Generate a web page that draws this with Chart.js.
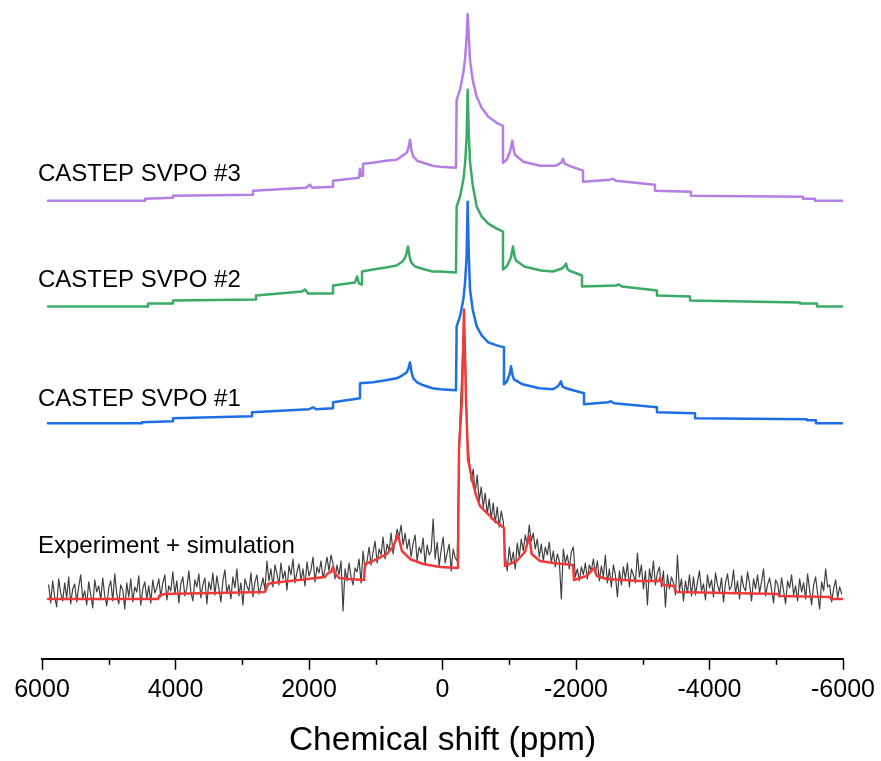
<!DOCTYPE html>
<html>
<head>
<meta charset="utf-8">
<script src="https://cdn.jsdelivr.net/npm/chart.js@4"></script>
<style>
  html, body { margin: 0; padding: 0; background: #fff; }
  canvas { display: block; }
</style>
</head>
<body>
<canvas id="nmr" width="881" height="761"></canvas>
<script>
// Static NMR line shapes: [chemical shift (ppm), intensity (a.u.) above each trace's own baseline]
const svpo3 = [[5910,0],[4456,0],[4456,2],[4037,3],[4037,5],[2839,6],[2839,10],[2045,13],[1985,16],[1955,13],
  [1640,14],[1640,20],[1251,23],[1236,32],[1221,25],[1191,25],[1191,37],[1041,38],[850,40],[686,41],[600,45],
  [536,48],[510,53],[487,61],[464,50],[437,44],[380,40],[288,38],[150,35],[37,34],[-202,33],[-212,101],
  [-262,111],[-312,128],[-337,141],[-362,164],[-377,187],[-392,168],[-412,141],[-452,121],[-512,104],
  [-587,93],[-686,84],[-812,78],[-906,75],[-906,38],[-962,41],[-1011,49],[-1046,60],[-1071,50],[-1086,46],
  [-1210,39],[-1461,35],[-1700,35],[-1780,38],[-1805,42],[-1830,37],[-1895,35],[-2105,30],[-2105,19],
  [-2509,21],[-2554,22],[-2599,20],[-3183,16],[-3183,10],[-3723,9],[-3723,5],[-5400,4],[-5400,2],
  [-5580,2],[-5580,0],[-6000,0]];

const svpo2 = [[5910,0],[4411,0],[4411,3],[4037,3],[4037,6],[2794,7],[2794,11],[2105,15],[2060,17],[2015,13],
  [1640,13],[1640,21],[1311,24],[1281,30],[1251,23],[1206,22],[1206,35],[1041,37],[850,39],[686,41],[600,45],
  [566,48],[540,53],[517,60],[494,50],[467,44],[410,40],[318,38],[150,35],[37,35],[-202,34],[-212,100],
  [-262,110],[-312,127],[-337,142],[-362,170],[-377,217],[-392,175],[-412,145],[-452,122],[-512,100],
  [-587,90],[-686,83],[-812,78],[-906,75],[-906,37],[-962,40],[-1026,49],[-1056,60],[-1081,50],[-1101,46],
  [-1225,40],[-1476,36],[-1655,35],[-1790,38],[-1835,41],[-1850,43],[-1870,38],[-1895,36],[-2090,31],
  [-2090,20],[-2599,21],[-2644,22],[-2689,20],[-3213,16],[-3213,11],[-3708,10],[-3708,6],[-5355,4],
  [-5355,3],[-5610,3],[-5610,0],[-6000,0]];

const svpo1 = [[5910,0],[4501,0],[4501,1],[4037,2],[4037,5],[2854,7],[2854,11],[2000,14],[1940,16],[1895,14],
  [1640,15],[1640,21],[1236,25],[1236,40],[1041,41],[850,43],[686,45],[600,48],[536,51],[510,55],[487,61],
  [464,51],[437,45],[380,41],[288,38],[150,35],[37,34],[-202,33],[-212,97],[-262,107],[-312,124],[-337,140],
  [-362,168],[-377,222],[-392,172],[-412,134],[-452,114],[-512,97],[-587,88],[-686,81],[-812,78],[-921,76],
  [-921,39],[-966,42],[-1006,49],[-1026,57],[-1050,48],[-1071,44],[-1200,39],[-1450,35],[-1655,34],
  [-1730,37],[-1760,40],[-1775,42],[-1795,37],[-1850,35],[-2120,30],[-2120,19],[-2479,21],[-2524,22],
  [-2569,20],[-3213,16],[-3213,11],[-3783,10],[-3783,5],[-5460,4],[-5460,3],[-5595,3],[-5595,0],[-6000,0]];

const simulation = [[5910,0],[4262,0],[4232,4],[4157,5],[2659,7],[2614,15],[2554,16],[1760,22],[1730,25],
  [1670,27],[1640,32],[1610,25],[1550,21],[1400,20],[1176,19],[1161,35],[1041,38],[831,45],[742,52],
  [667,64],[607,48],[487,40],[292,35],[37,32],[-232,31],[-247,150],[-292,200],[-322,290],[-352,200],
  [-382,140],[-442,120],[-502,104],[-562,93],[-637,88],[-787,78],[-921,71],[-936,33],[-1111,38],
  [-1236,47],[-1300,63],[-1336,45],[-1461,38],[-1655,36],[-1955,34],[-1970,19],[-2160,23],[-2274,31],
  [-2310,23],[-2460,20],[-2959,18],[-3243,18],[-3258,21],[-3303,14],[-3468,13],[-3498,7],[-5026,5],
  [-5041,3],[-5805,2],[-5820,0],[-6000,0]];

// Measured spectrum, sampled every 30 ppm starting at 5900 ppm
const exptStart = 5900;
const exptStep = 30;
const experiment = [
  14,-4,18,2,-8,20,6,-2,16,1, 22,-5,10,15,-3,12,24,0,8,-6, 17,4,-9,19,7,13,-1,21,3,-7,
  11,18,-2,25,5,-5,14,9,-10,16, 2,20,-3,12,7,23,-6,10,17,0, 13,-4,19,6,11,
  20,2,16,24,-1,13,8,27,5,18, -4,15,22,3,11,28,7,-2,19,12, 25,1,14,21,-5,17,9,26,4,23,
  10,-3,18,29,6,14,0,22,11,30, 3,16,-6,20,13,8,26,2,17,24, 5,12,21,9,
  38,18,30,12,34,25,14,36,20,28, 9,33,24,40,16,27,35,19,30,13, 37,23,29,42,17,32,26,38,21,
  30,42,28,44,35,
  20,34,24,38,-12,30,18,36,22,14,31,27,40,16,48,29,
  38,52,34,47,58,36,50,44,62,40,55,48,66,45,58,
  70,62,74,54,66,
  50,60,42,56,64,38,52,46,61,35,54,44,48,80,40,57,33,49,62,36,46,55,28,50,41,
  38,160,210,262, 250,165,
  140,118,130,106,124,98,112,92,106,85,100,80,96,76,92,72,88,78,
  44,28,52,36,47,30,56,42,60,48,64,55,
  74,58,66,50,60,42,55,38,52,44,57,36,
  48,32,45,38,0,50,36,44,30,47,52,22,30,
  18,32,24,36,20,34,28,40,26,38,18,33,22,44,16,30,12,34,24,
  2,28,14,32,20,36,12,30,24,16,46,22,34,10,28,-6,30,18,38,14,
  26,32,12,28,-8,24,10,22,16,4,44,8,20,-2,18,6,24,3,
  22,4,17,28,8,15,-1,24,11,19, 2,26,14,7,21,-3,16,25,9,13, 29,5,18,0,23,12,8,27,15,-2,
  20,10,24,6,17,30,3,14,21,9, -4,19,
  15,2,21,8,-5,18,11,24,4,13, -2,20,7,16,0,25,9,-6,14,22, 5,-10,17,8,30,12,
  14,-3,10,19,1,12,5];

// Vertical offsets of the stacked traces (a.u.)
const offsets = [459, 353, 236, 60];
const traceNames = ['CASTEP SVPO #3', 'CASTEP SVPO #2', 'CASTEP SVPO #1', 'Experiment + simulation'];
const labelShift = 6060;                 // ppm where each trace name starts
const labelLift = [26, 26, 24, 53];      // height of each name above its baseline
const majorTicks = [6000, 4000, 2000, 0, -2000, -4000, -6000];
const minorTicks = [5000, 3000, 1000, -1000, -3000, -5000];

const FONT = '"Liberation Sans", Arial, Helvetica, sans-serif';

const shifted = (pairs, off) => pairs.map(([x, y]) => ({ x, y: y + off }));
const exptPoints = experiment.map((v, i) => ({ x: exptStart - i * exptStep, y: v + offsets[3] }));

const line = (data, color, width, order) => ({
  data, borderColor: color, borderWidth: width, pointRadius: 0, tension: 0,
  fill: false, order, borderJoinStyle: 'round', borderCapStyle: 'round'
});

const namesPlugin = {
  id: 'traceNames',
  afterDatasetsDraw(chart) {
    const { ctx, scales: { x, y } } = chart;
    ctx.save();
    ctx.fillStyle = '#000';
    ctx.font = '24px ' + FONT;
    ctx.textAlign = 'left';
    ctx.textBaseline = 'middle';
    traceNames.forEach((t, i) => {
      ctx.fillText(t, x.getPixelForValue(labelShift), y.getPixelForValue(offsets[i] + labelLift[i]));
    });
    ctx.restore();
  }
};

const minorTickPlugin = {
  id: 'minorTicks',
  afterDraw(chart) {
    const { ctx, scales: { x } } = chart;
    ctx.save();
    ctx.strokeStyle = '#000';
    ctx.lineWidth = 1.5;
    minorTicks.forEach(v => {
      const px = Math.round(x.getPixelForValue(v)) + 0.5;
      ctx.beginPath();
      ctx.moveTo(px, x.top);
      ctx.lineTo(px, x.top + 6);
      ctx.stroke();
    });
    ctx.restore();
  }
};

new Chart(document.getElementById('nmr'), {
  type: 'line',
  data: {
    datasets: [
      line(shifted(svpo3, offsets[0]), 'rgb(180,126,228)', 2.5, 1),
      line(shifted(svpo2, offsets[1]), 'rgb(58,170,102)', 2.5, 2),
      line(shifted(svpo1, offsets[2]), 'rgb(30,110,228)', 2.5, 3),
      line(shifted(simulation, offsets[3]), 'rgb(240,58,58)', 2.5, 4),
      line(exptPoints, 'rgb(64,64,64)', 1.2, 5)
    ]
  },
  options: {
    responsive: false,
    animation: false,
    layout: { padding: { left: 42, right: 38, top: 0, bottom: 0 } },
    plugins: { legend: { display: false }, tooltip: { enabled: false } },
    scales: {
      x: {
        type: 'linear', reverse: true, min: -6000, max: 6000,
        border: { display: true, color: '#000', width: 2 },
        grid: { drawOnChartArea: false, drawTicks: true, tickLength: 11, tickColor: '#000', tickWidth: 1.5 },
        afterBuildTicks: s => { s.ticks = majorTicks.map(value => ({ value })); },
        ticks: {
          color: '#000', font: { family: FONT, size: 25 }, padding: 5,
          maxRotation: 0, autoSkip: false, callback: v => String(v)
        },
        title: {
          display: true, text: 'Chemical shift (ppm)', color: '#000',
          font: { family: FONT, size: 33.5 }, padding: { top: 11, bottom: 0 }
        }
      },
      y: { display: false, min: 0, max: 660 }
    }
  },
  plugins: [namesPlugin, minorTickPlugin]
});
</script>
</body>
</html>
